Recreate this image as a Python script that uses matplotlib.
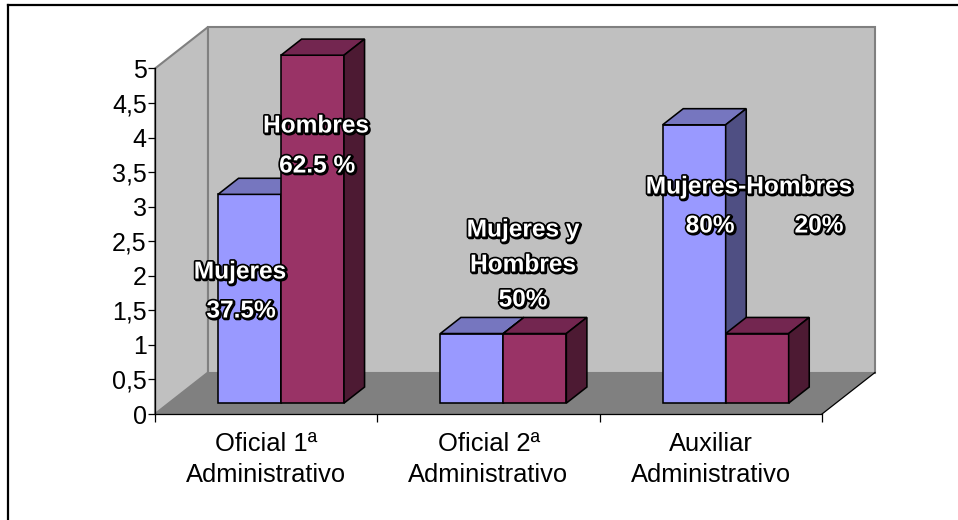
import matplotlib
matplotlib.use("Agg")
import matplotlib.pyplot as plt
from matplotlib.patches import Polygon
from matplotlib.lines import Line2D
import matplotlib.patheffects as pe

plt.rcParams['font.family'] = ['Liberation Sans', 'DejaVu Sans']

categories = ['Oficial 1ª\nAdministrativo', 'Oficial 2ª\nAdministrativo', 'Auxiliar\nAdministrativo']
mujeres = [3, 1, 4]
hombres = [5, 1, 1]
y_ticks = [0, 0.5, 1, 1.5, 2, 2.5, 3, 3.5, 4, 4.5, 5]
y_labels = ['0', '0,5', '1', '1,5', '2', '2,5', '3', '3,5', '4', '4,5', '5']
annotations = [
    ('Mujeres', 240, 272), ('37.5%', 241, 311),
    ('Hombres', 316, 126), ('62.5 %', 317, 166),
    ('Mujeres y', 523, 230), ('Hombres', 523, 265), ('50%', 523, 300),
    ('Mujeres-Hombres', 749, 187), ('80%', 710, 226), ('20%', 819, 226),
]

W, H = 958, 520
fig = plt.figure(figsize=(W / 100, H / 100), dpi=100, facecolor='white')
L, R, T, B = 155, 822, 68.5, 414
ax = fig.add_axes([L / W, 1 - B / H, (R - L) / W, (B - T) / H])
ax.set_xlim(0, 3)
ax.set_ylim(0, 5)
ax.patch.set_visible(False)

sx = 3 / (R - L)   # data per pixel
sy = 5 / (B - T)
DX, DY = 53 * sx, 41.5 * sy  # full floor depth


def project(x, y, d):
    """x, y in data units, d = depth fraction 0..1"""
    return (x + d * DX, y + d * DY)


def face(points, **kw):
    ax.add_patch(Polygon([project(*p) for p in points], closed=True, clip_on=False, **kw))


# Walls and floor
wall = '#C0C0C0'
edge = '#808080'
face([(0, 0, 0), (0, 5, 0), (0, 5, 1), (0, 0, 1)], fc=wall, ec=edge, lw=1.5, zorder=1)
face([(0, 0, 1), (0, 5, 1), (3, 5, 1), (3, 0, 1)], fc=wall, ec=edge, lw=1.5, zorder=1)
face([(0, 0, 0), (3, 0, 0), (3, 0, 1), (0, 0, 1)], fc='#808080', ec='none', zorder=2)
ax.add_line(Line2D([3, project(3, 0, 1)[0]], [0, project(3, 0, 1)[1]], color='black', lw=0.9, zorder=3, clip_on=False))

# Bars
bar_w = 63 * sx
d0, d1 = 0.262, 0.65
shift = d0 * DX
offs = [(218 - L) * sx - shift, (281 - L) * sx - shift]
y_scale = 1.007  # the reference's bars run very slightly taller than its axis


def bar(x, v, front, top, side, z):
    lw = 1.15
    x2 = x + bar_w
    v = v * y_scale
    face([(x, 0, d0), (x2, 0, d0), (x2, v, d0), (x, v, d0)], fc=front, ec='black', lw=lw, zorder=z, joinstyle='miter')
    face([(x, v, d0), (x2, v, d0), (x2, v, d1), (x, v, d1)], fc=top, ec='black', lw=lw, zorder=z, joinstyle='miter')
    face([(x2, 0, d0), (x2, v, d0), (x2, v, d1), (x2, 0, d1)], fc=side, ec='black', lw=lw, zorder=z, joinstyle='miter')


for i in range(3):
    bar(i + offs[0], mujeres[i], '#9999FF', '#7676BF', '#4F4F83', 4 + i * 2)
    bar(i + offs[1], hombres[i], '#993366', '#732650', '#4D1A33', 5 + i * 2)

# Axes lines and ticks
ax.set_xticks(range(4))
ax.set_xticklabels([])
ax.set_yticks(y_ticks)
ax.set_yticklabels(y_labels, fontsize=18, color='black')
ax.tick_params(axis='y', length=5, width=0.9, pad=1)
ax.tick_params(axis='x', length=6, width=0.9)
for s in ('top', 'right'):
    ax.spines[s].set_visible(False)
for s in ('left', 'bottom'):
    ax.spines[s].set_linewidth(0.9)
    ax.spines[s].set_zorder(12)

for i, c in enumerate(categories):
    ax.annotate(c, xy=(i + 0.5, 0), xycoords='data', xytext=(0, -13), textcoords='offset points',
                ha='center', va='top', fontsize=18.4, linespacing=1.38, color='black')

# Outlined annotations, positioned by figure pixel centre
for txt, px, py in annotations:
    fig.text(px / W, 1 - py / H, txt, ha='center', va='center', fontsize=17.6, fontweight='bold', color='white',
             zorder=20,
             path_effects=[pe.Stroke(linewidth=2.4, foreground='black', offset=(0.8, -0.8)),
                           pe.withStroke(linewidth=2.4, foreground='black')])

# Frame: top and left lines only
fig.add_artist(Line2D([8 / W, 8 / W], [0, 1 - 5 / H], color='black', lw=1.6))
fig.add_artist(Line2D([8 / W, 1], [1 - 5 / H, 1 - 5 / H], color='black', lw=1.6))

fig.savefig('out.png', dpi=100)
